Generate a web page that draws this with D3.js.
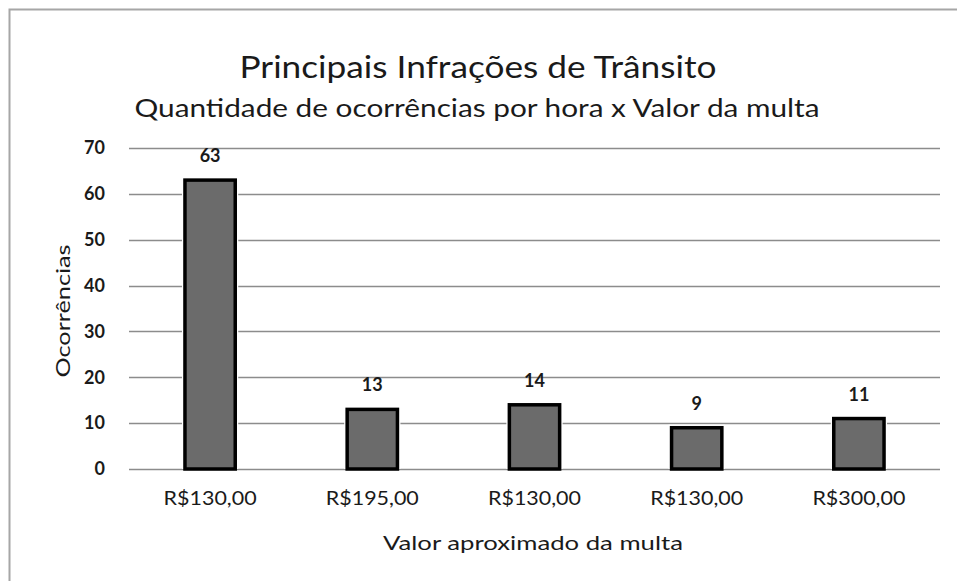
<!DOCTYPE html>
<html><head><meta charset="utf-8">
<script src="https://cdn.jsdelivr.net/npm/d3@7"></script>
<style>body{margin:0;background:#fff}</style>
</head><body>
<script>
const categories = ["R$130,00","R$195,00","R$130,00","R$130,00","R$300,00"];
const values = [63, 13, 14, 9, 11];
const yTicks = [0,10,20,30,40,50,60,70];
const title = "Principais Infrações de Trânsito";
const subtitle = "Quantidade de ocorrências por hora x Valor da multa";
const xTitle = "Valor aproximado  da multa";
const yTitle = "Ocorrências";

const W = 957, H = 581;
const font = "Lato, 'Open Sans', sans-serif";
const ink = "#1a1a1a";
const svg = d3.select("body").append("svg").attr("width", W).attr("height", H);

// outer border (top & left visible)
svg.append("rect").attr("x", 9.5).attr("y", 9.5).attr("width", 1000).attr("height", 1000)
  .attr("fill", "none").attr("stroke", "#a6a6a6").attr("stroke-width", 2);

const m = {l:129, r:940, t:148, b:469};
const idx = d3.range(categories.length);
const x = d3.scaleBand().domain(idx).range([m.l, m.r]).paddingInner(0.69).paddingOuter(0.345);
const y = d3.scaleLinear().domain([0, 70]).range([m.b, m.t]);

// gridlines
svg.append("g").selectAll("line").data(yTicks).join("line")
  .attr("x1", m.l).attr("x2", m.r)
  .attr("y1", d => Math.round(y(d)) + 0.5).attr("y2", d => Math.round(y(d)) + 0.5)
  .attr("stroke", "#8c8c8c").attr("stroke-width", 1.3);

// y tick labels
svg.append("g").selectAll("text").data(yTicks).join("text")
  .attr("x", 105).attr("y", d => y(d)).attr("dy", "0.35em")
  .attr("text-anchor", "end").attr("font-family", font)
  .attr("font-size", 18).attr("font-weight", 700).attr("fill", ink).text(d => d);

// bars: white halo, then bar
const bars = svg.append("g");
bars.selectAll("rect.halo").data(idx).join("rect").attr("class","halo")
  .attr("x", i => x(i) - 3).attr("width", x.bandwidth() + 6)
  .attr("y", i => y(values[i]) - 3).attr("height", i => y(0) - y(values[i]) + 3)
  .attr("fill", "#fff");
bars.selectAll("rect.bar").data(idx).join("rect").attr("class","bar")
  .attr("x", i => x(i)).attr("width", x.bandwidth())
  .attr("y", i => y(values[i])).attr("height", i => y(0) - y(values[i]))
  .attr("fill", "#6b6b6b").attr("stroke", "#000").attr("stroke-width", 3.5);

// data labels
svg.append("g").selectAll("text").data(idx).join("text")
  .attr("x", i => x(i) + x.bandwidth()/2).attr("y", i => y(values[i]) - 18)
  .attr("text-anchor", "middle").attr("font-family", font)
  .attr("font-size", 18).attr("font-weight", 700).attr("fill", ink).text(i => values[i]);

// x tick labels
svg.append("g").selectAll("text").data(idx).join("text")
  .attr("x", i => x(i) + x.bandwidth()/2).attr("y", 505)
  .attr("text-anchor", "middle").attr("font-family", font)
  .attr("font-size", 19).attr("fill", ink)
  .attr("textLength", 93).attr("lengthAdjust", "spacingAndGlyphs").text(i => categories[i]);

// axis titles
svg.append("text").attr("x", 533).attr("y", 550).attr("text-anchor", "middle")
  .attr("font-family", font).attr("font-size", 20).attr("fill", ink)
  .attr("textLength", 300).attr("lengthAdjust", "spacingAndGlyphs").text(xTitle);
svg.append("text").attr("transform", "translate(70,311) rotate(-90)").attr("text-anchor", "middle")
  .attr("font-family", font).attr("font-size", 19).attr("fill", ink)
  .attr("textLength", 133).attr("lengthAdjust", "spacingAndGlyphs").text(yTitle);

// titles
svg.append("text").attr("x", 478).attr("y", 78).attr("text-anchor", "middle")
  .attr("font-family", font).attr("font-size", 31).attr("fill", ink)
  .attr("textLength", 477).attr("lengthAdjust", "spacingAndGlyphs").text(title);
svg.append("text").attr("x", 477).attr("y", 117).attr("text-anchor", "middle")
  .attr("font-family", font).attr("font-size", 25).attr("fill", ink)
  .attr("textLength", 685).attr("lengthAdjust", "spacingAndGlyphs").text(subtitle);
</script>
</body></html>
